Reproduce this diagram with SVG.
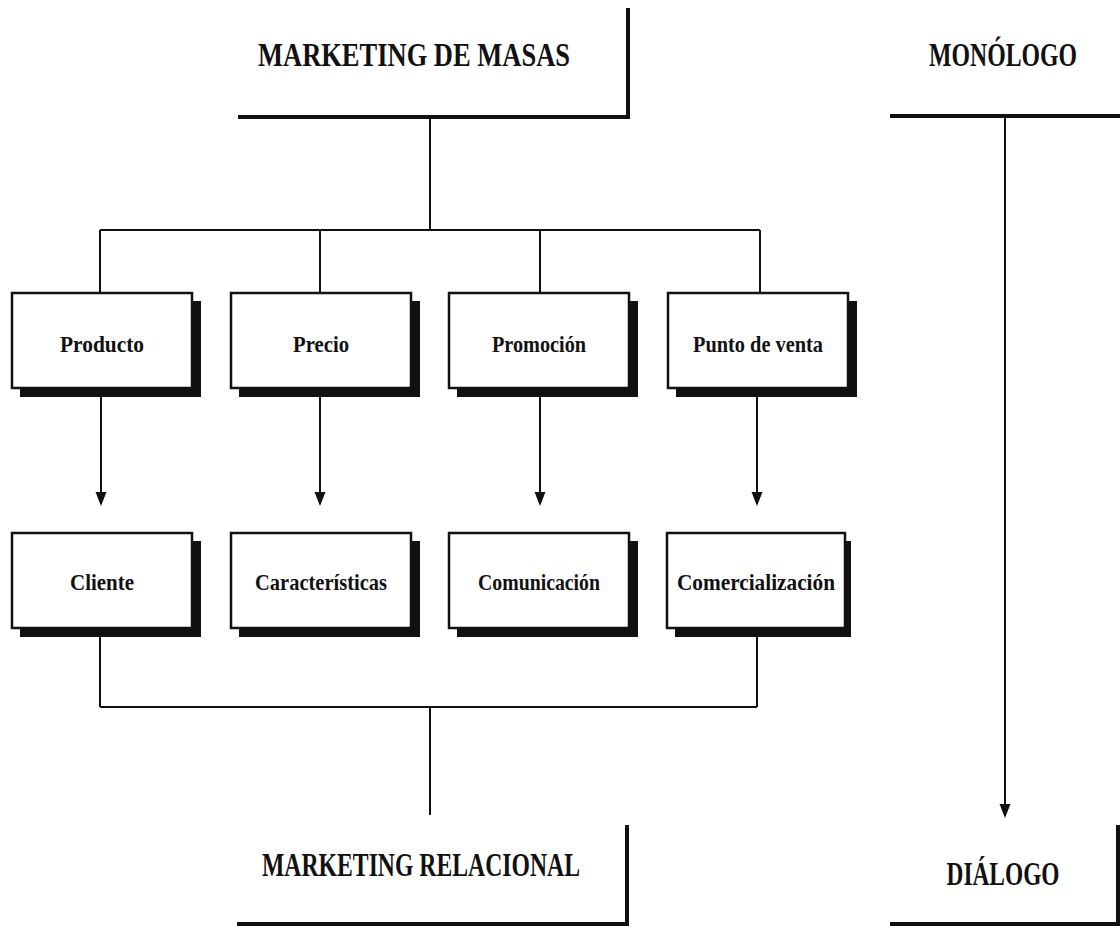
<svg xmlns="http://www.w3.org/2000/svg" width="1120" height="931" viewBox="0 0 1120 931">
<style>
.hdr{font-family:"Liberation Serif","DejaVu Serif",serif;font-weight:bold;font-size:33px;fill:#111;text-anchor:middle}
.lbl{font-family:"Liberation Serif","DejaVu Serif",serif;font-weight:bold;font-size:24px;fill:#111;text-anchor:middle}
.thick{stroke:#111;stroke-width:4;fill:none}
.thin{stroke:#111;stroke-width:2;fill:none}
.box{fill:#fff;stroke:#111;stroke-width:2.5}
.shadow{fill:#111}
</style>
<defs>
<marker id="ah" markerWidth="14" markerHeight="20" refX="12" refY="6" orient="auto" markerUnits="userSpaceOnUse" viewBox="0 0 14 12">
<path d="M0,0.5 L14,6 L0,11.5 Z" fill="#111"/>
</marker>
</defs>
<rect width="1120" height="931" fill="#fff"/>

<g id="connectors">
<line class="thin" x1="430" y1="117" x2="430" y2="230"/>
<line class="thin" x1="100" y1="230" x2="760" y2="230"/>
<line class="thin" x1="100" y1="230" x2="100" y2="293"/>
<line class="thin" x1="320" y1="230" x2="320" y2="293"/>
<line class="thin" x1="540" y1="230" x2="540" y2="293"/>
<line class="thin" x1="760" y1="230" x2="760" y2="293"/>
<line class="thin" x1="101" y1="397" x2="101" y2="504" marker-end="url(#ah)"/>
<line class="thin" x1="320" y1="397" x2="320" y2="504" marker-end="url(#ah)"/>
<line class="thin" x1="540" y1="397" x2="540" y2="504" marker-end="url(#ah)"/>
<line class="thin" x1="757" y1="397" x2="757" y2="504" marker-end="url(#ah)"/>
<line class="thin" x1="100" y1="637" x2="100" y2="707"/>
<line class="thin" x1="757" y1="637" x2="757" y2="707"/>
<line class="thin" x1="100" y1="707" x2="757" y2="707"/>
<line class="thin" x1="430" y1="707" x2="430" y2="815"/>
<line class="thin" x1="1005" y1="117" x2="1005" y2="816" marker-end="url(#ah)"/>
</g>

<g id="marketing-de-masas">
<polyline class="thick" points="238,117 628,117 628,8"/>
<text class="hdr" x="414" y="66" textLength="312" lengthAdjust="spacingAndGlyphs">MARKETING DE MASAS</text>
</g>
<g id="monologo">
<line class="thick" x1="890" y1="116" x2="1120" y2="116"/>
<text class="hdr" x="1003" y="66" textLength="148" lengthAdjust="spacingAndGlyphs">MONÓLOGO</text>
</g>

<g id="producto">
<rect class="shadow" x="20" y="301" width="181" height="96"/>
<rect class="box" x="12" y="293" width="180" height="95"/>
<text class="lbl" x="102" y="352" textLength="84" lengthAdjust="spacingAndGlyphs">Producto</text>
</g>
<g id="precio">
<rect class="shadow" x="239" y="301" width="181" height="96"/>
<rect class="box" x="231" y="293" width="180" height="95"/>
<text class="lbl" x="321" y="352" textLength="56" lengthAdjust="spacingAndGlyphs">Precio</text>
</g>
<g id="promocion">
<rect class="shadow" x="457" y="301" width="181" height="96"/>
<rect class="box" x="449" y="293" width="180" height="95"/>
<text class="lbl" x="539" y="352" textLength="94" lengthAdjust="spacingAndGlyphs">Promoción</text>
</g>
<g id="punto-de-venta">
<rect class="shadow" x="676" y="301" width="181" height="96"/>
<rect class="box" x="668" y="293" width="180" height="95"/>
<text class="lbl" x="758" y="352" textLength="130" lengthAdjust="spacingAndGlyphs">Punto de venta</text>
</g>

<g id="cliente">
<rect class="shadow" x="20" y="541" width="181" height="96"/>
<rect class="box" x="12" y="533" width="180" height="95"/>
<text class="lbl" x="102" y="590" textLength="64" lengthAdjust="spacingAndGlyphs">Cliente</text>
</g>
<g id="caracteristicas">
<rect class="shadow" x="239" y="541" width="181" height="96"/>
<rect class="box" x="231" y="533" width="180" height="95"/>
<text class="lbl" x="321" y="590" textLength="132" lengthAdjust="spacingAndGlyphs">Características</text>
</g>
<g id="comunicacion">
<rect class="shadow" x="457" y="541" width="181" height="96"/>
<rect class="box" x="449" y="533" width="180" height="95"/>
<text class="lbl" x="539" y="590" textLength="122" lengthAdjust="spacingAndGlyphs">Comunicación</text>
</g>
<g id="comercializacion">
<rect class="shadow" x="675" y="541" width="176" height="96"/>
<rect class="box" x="667" y="533" width="178" height="95"/>
<text class="lbl" x="756" y="590" textLength="158" lengthAdjust="spacingAndGlyphs">Comercialización</text>
</g>

<g id="marketing-relacional">
<polyline class="thick" points="237,924 627,924 627,825"/>
<text class="hdr" x="421" y="876" textLength="318" lengthAdjust="spacingAndGlyphs">MARKETING RELACIONAL</text>
</g>
<g id="dialogo">
<polyline class="thick" points="890,924 1118,924 1118,825"/>
<text class="hdr" x="1003" y="885" textLength="113" lengthAdjust="spacingAndGlyphs">DIÁLOGO</text>
</g>
</svg>
